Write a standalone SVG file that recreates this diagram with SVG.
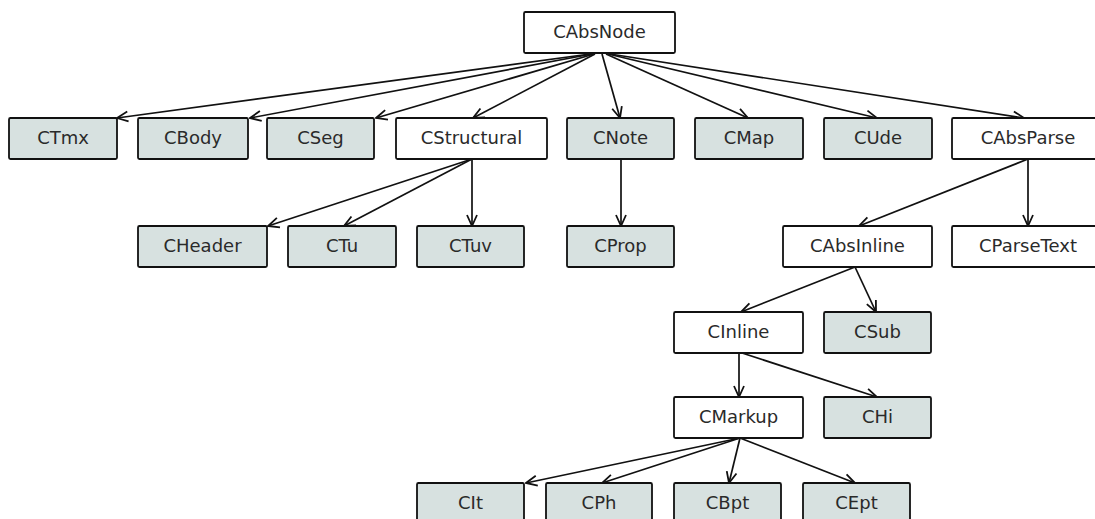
<svg xmlns="http://www.w3.org/2000/svg" width="1095" height="519" viewBox="0 0 1095 519">
<style>
.n rect{stroke:#111;stroke-width:1.8}
.w rect{fill:#ffffff}
.g rect{fill:#d7e1e0}
.n text{font-family:"DejaVu Sans",sans-serif;font-size:18px;fill:#2a2a2a;text-anchor:middle}
#edges line{stroke:#111;stroke-width:1.7;fill:none;marker-end:url(#a)}
</style>
<defs>
<marker id="a" markerWidth="13" markerHeight="13" viewBox="0 0 13 13" refX="12" refY="6.5" orient="auto" markerUnits="userSpaceOnUse">
<path d="M1,1.5 L12,6.5 L1,11.5" fill="none" stroke="#111" stroke-width="1.8"/>
</marker>
</defs>
<rect width="1095" height="519" fill="#ffffff"/>
<g id="edges">
<line x1="590" y1="54" x2="117" y2="118"/>
<line x1="592" y1="54" x2="250" y2="118"/>
<line x1="594" y1="54" x2="376" y2="118"/>
<line x1="595" y1="54" x2="473" y2="118"/>
<line x1="602" y1="54" x2="620" y2="118"/>
<line x1="606" y1="54" x2="748" y2="118"/>
<line x1="608" y1="54" x2="877" y2="118"/>
<line x1="610" y1="54" x2="1024" y2="118"/>
<line x1="472" y1="159" x2="268" y2="226"/>
<line x1="472" y1="159" x2="344" y2="226"/>
<line x1="472" y1="159" x2="472" y2="226"/>
<line x1="621" y1="159" x2="621" y2="226"/>
<line x1="1028" y1="159" x2="859" y2="226"/>
<line x1="1028" y1="159" x2="1028" y2="226"/>
<line x1="855" y1="267" x2="741" y2="312"/>
<line x1="855" y1="267" x2="876" y2="312"/>
<line x1="739" y1="352" x2="739" y2="397"/>
<line x1="739" y1="352" x2="877" y2="397"/>
<line x1="740" y1="438" x2="526" y2="483"/>
<line x1="740" y1="438" x2="602" y2="483"/>
<line x1="740" y1="438" x2="729" y2="483"/>
<line x1="740" y1="438" x2="855" y2="483"/>
</g>
<g id="CAbsNode" class="n w"><rect x="524" y="12" width="151" height="41" rx="1.5"/><text x="599.5" y="38">CAbsNode</text></g>
<g id="CTmx" class="n g"><rect x="9" y="118" width="108" height="41" rx="1.5"/><text x="63" y="144">CTmx</text></g>
<g id="CBody" class="n g"><rect x="138" y="118" width="110" height="41" rx="1.5"/><text x="193" y="144">CBody</text></g>
<g id="CSeg" class="n g"><rect x="267" y="118" width="107" height="41" rx="1.5"/><text x="320.5" y="144">CSeg</text></g>
<g id="CStructural" class="n w"><rect x="396" y="118" width="151" height="41" rx="1.5"/><text x="471.5" y="144">CStructural</text></g>
<g id="CNote" class="n g"><rect x="567" y="118" width="107" height="41" rx="1.5"/><text x="620.5" y="144">CNote</text></g>
<g id="CMap" class="n g"><rect x="695" y="118" width="108" height="41" rx="1.5"/><text x="749" y="144">CMap</text></g>
<g id="CUde" class="n g"><rect x="824" y="118" width="108" height="41" rx="1.5"/><text x="878" y="144">CUde</text></g>
<g id="CAbsParse" class="n w"><rect x="952" y="118" width="152" height="41" rx="1.5"/><text x="1028" y="144">CAbsParse</text></g>
<g id="CHeader" class="n g"><rect x="138" y="226" width="129" height="41" rx="1.5"/><text x="202.5" y="252">CHeader</text></g>
<g id="CTu" class="n g"><rect x="288" y="226" width="108" height="41" rx="1.5"/><text x="342" y="252">CTu</text></g>
<g id="CTuv" class="n g"><rect x="417" y="226" width="107" height="41" rx="1.5"/><text x="470.5" y="252">CTuv</text></g>
<g id="CProp" class="n g"><rect x="567" y="226" width="107" height="41" rx="1.5"/><text x="620.5" y="252">CProp</text></g>
<g id="CAbsInline" class="n w"><rect x="783" y="226" width="149" height="41" rx="1.5"/><text x="857.5" y="252">CAbsInline</text></g>
<g id="CParseText" class="n w"><rect x="952" y="226" width="152" height="41" rx="1.5"/><text x="1028" y="252">CParseText</text></g>
<g id="CInline" class="n w"><rect x="674" y="312" width="129" height="41" rx="1.5"/><text x="738.5" y="338">CInline</text></g>
<g id="CSub" class="n g"><rect x="824" y="312" width="107" height="41" rx="1.5"/><text x="877.5" y="338">CSub</text></g>
<g id="CMarkup" class="n w"><rect x="674" y="397" width="129" height="41" rx="1.5"/><text x="738.5" y="423">CMarkup</text></g>
<g id="CHi" class="n g"><rect x="824" y="397" width="107" height="41" rx="1.5"/><text x="877.5" y="423">CHi</text></g>
<g id="CIt" class="n g"><rect x="417" y="483" width="107" height="41" rx="1.5"/><text x="470.5" y="509">CIt</text></g>
<g id="CPh" class="n g"><rect x="546" y="483" width="106" height="41" rx="1.5"/><text x="599" y="509">CPh</text></g>
<g id="CBpt" class="n g"><rect x="674" y="483" width="107" height="41" rx="1.5"/><text x="727.5" y="509">CBpt</text></g>
<g id="CEpt" class="n g"><rect x="803" y="483" width="107" height="41" rx="1.5"/><text x="856.5" y="509">CEpt</text></g>
</svg>
